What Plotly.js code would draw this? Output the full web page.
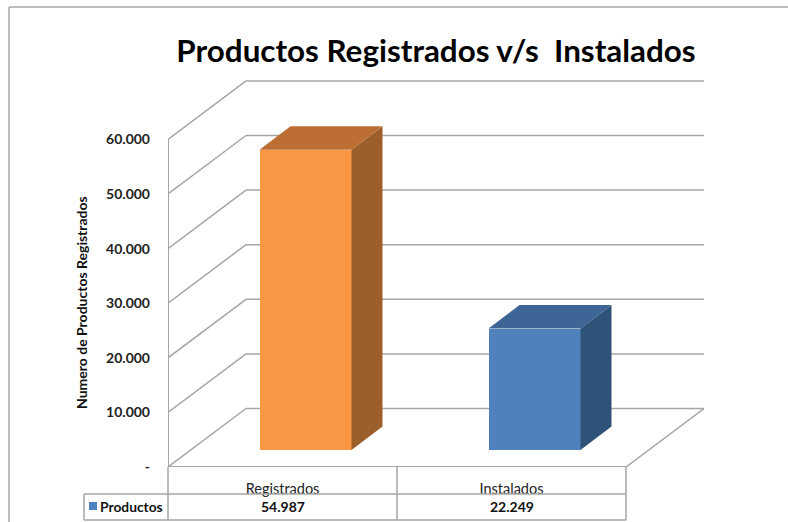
<!DOCTYPE html>
<html><head><meta charset="utf-8">
<script src="https://cdn.plot.ly/plotly-3.0.1.min.js"></script>
<style>html,body{margin:0;padding:0;background:#fff}</style>
</head><body><div id="chart" style="width:788px;height:522px"></div>
<script>
const categories = ["Registrados", "Instalados"];
const seriesName = "Productos";
const seriesValues = [54987, 22249];
const valueLabels = ["54.987", "22.249"];
const faceColors = ["#FA9745", "#4F81BD"];
const topColors = ["#BC6E33", "#3D6595"];
const sideColors = ["#9C5F2B", "#2F5278"];
const tickValues = [0, 10000, 20000, 30000, 40000, 50000, 60000];
const tickLabels = ["-", "10.000", "20.000", "30.000", "40.000", "50.000", "60.000"];

// Layout box of the plot area, in pixels
const W = 788, H = 522, L = 168, R = 704, T = 60, B = 467;
const pxPerCat = 229, pxPerUnit = 54.6 / 10000;
const xMin = 0.5, xMax = xMin + (R - L) / pxPerCat;
const yMax = (B - T) / pxPerUnit;
// Oblique projection, in axis units
const wallDx = 78 / pxPerCat, wallDy = 58.5 / pxPerUnit;
const barDx = 31 / pxPerCat, barDy = 23.5 / pxPerUnit;
const barShiftX = 23 / pxPerCat, barBase = 17 / pxPerUnit, barW = 92 / pxPerCat;
const xRight = xMin + 2;

const pxX = v => (v - L) / (R - L), py = v => 1 - (v - T) / (B - T);
const gridColor = "#A6A6A6";
const line = (x0, y0, x1, y1, w) => ({type: "line", xref: "x", yref: "y", layer: "below",
  x0, y0, x1, y1, line: {color: gridColor, width: w || 1.5}});
const pline = (x0, y0, x1, y1, c) => ({type: "line", xref: "paper", yref: "paper", layer: "above",
  x0: pxX(x0), x1: pxX(x1), y0: py(y0), y1: py(y1),
  line: {color: c || gridColor, width: 1.5}});

const shapes = [];
tickValues.forEach(v => {
  shapes.push(line(xMin, v, xMin + wallDx, v + wallDy));
  shapes.push(line(xMin + wallDx, v + wallDy, xMax, v + wallDy));
});
shapes.push(line(xMin, 0, xMin, 60000, 2));
shapes.push(line(xMin, 0, xRight, 0, 2));
shapes.push(line(xRight, 0, xMax, wallDy));
// Data table under the chart
shapes.push(pline(168, 467, 168, 520));
shapes.push(pline(397, 467, 397, 520));
shapes.push(pline(626, 467, 626, 520));
shapes.push(pline(84, 494, 84, 520));
shapes.push(pline(84, 494, 626, 494));
shapes.push(pline(84, 520, 626, 520));
// Outer frame
shapes.push(pline(9, 7, 788, 7));
shapes.push(pline(9, 7, 9, 522));
// Legend key
shapes.push({type: "rect", xref: "paper", yref: "paper", layer: "above",
  x0: pxX(89), x1: pxX(97), y0: py(510), y1: py(502),
  fillcolor: "#4F81BD", line: {width: 0}});

const centers = categories.map((_, i) => i + 1 + barShiftX);
const traces = [{type: "bar", name: seriesName, x: centers, y: seriesValues,
  base: seriesValues.map(() => barBase), width: barW,
  marker: {color: faceColors, line: {width: 0}}, hoverinfo: "skip", showlegend: false}];
seriesValues.forEach((v, i) => {
  const x0 = centers[i] - barW / 2, x1 = centers[i] + barW / 2, y0 = barBase, y1 = barBase + v;
  traces.push({type: "scatter", mode: "lines", fill: "toself", fillcolor: sideColors[i],
    x: [x1, x1 + barDx, x1 + barDx, x1, x1], y: [y0, y0 + barDy, y1 + barDy, y1, y0],
    line: {width: 0, color: sideColors[i]}, hoverinfo: "skip", showlegend: false});
  traces.push({type: "scatter", mode: "lines", fill: "toself", fillcolor: topColors[i],
    x: [x0, x1, x1 + barDx, x0 + barDx, x0], y: [y1, y1, y1 + barDy, y1 + barDy, y1],
    line: {width: 0, color: topColors[i]}, hoverinfo: "skip", showlegend: false});
});

const font = "Lato, 'Noto Sans', sans-serif";
const bold = t => "<b>" + t + "</b>";
const note = (x, xref, yPx, text, size, angle) => ({xref, yref: "paper", x, y: py(yPx), text,
  xanchor: "center", yanchor: "middle", showarrow: false, textangle: angle || 0,
  font: {family: font, size, color: "#111"}});
const annotations = categories.map((_, i) => note(i + 1, "x", 507, bold(valueLabels[i]), 14));
annotations.push(note(pxX(131.5), "paper", 506, bold(seriesName), 13.8));
annotations.push(note(pxX(81), "paper", 303, bold("Numero de Productos Registrados"), 14, -90));

const layout = {
  width: W, height: H, autosize: false, showlegend: false, bargap: 0,
  paper_bgcolor: "#fff", plot_bgcolor: "rgba(0,0,0,0)",
  margin: {l: L, r: W - R, t: T, b: H - B, pad: 0},
  title: {text: bold("Productos Registrados v/s  Instalados"), x: 436 / W, xanchor: "center",
    y: 1 - 51 / H, yanchor: "middle", font: {family: font, size: 31.4, color: "#000"}},
  xaxis: {range: [xMin, xMax], tickmode: "array", tickvals: categories.map((_, i) => i + 1),
    ticktext: categories, showgrid: false, zeroline: false, showline: false, ticks: "",
    ticklabelstandoff: 11, tickfont: {family: font, size: 14.5, color: "#222"}},
  yaxis: {range: [0, yMax], tickmode: "array", tickvals: tickValues, ticktext: tickLabels.map(bold),
    showgrid: false, zeroline: false, showline: false, ticks: "", ticklabelstandoff: 17,
    tickfont: {family: font, size: 14, color: "#222"}},
  shapes, annotations
};
Plotly.newPlot("chart", traces, layout, {displayModeBar: false, staticPlot: true});
</script></body></html>
